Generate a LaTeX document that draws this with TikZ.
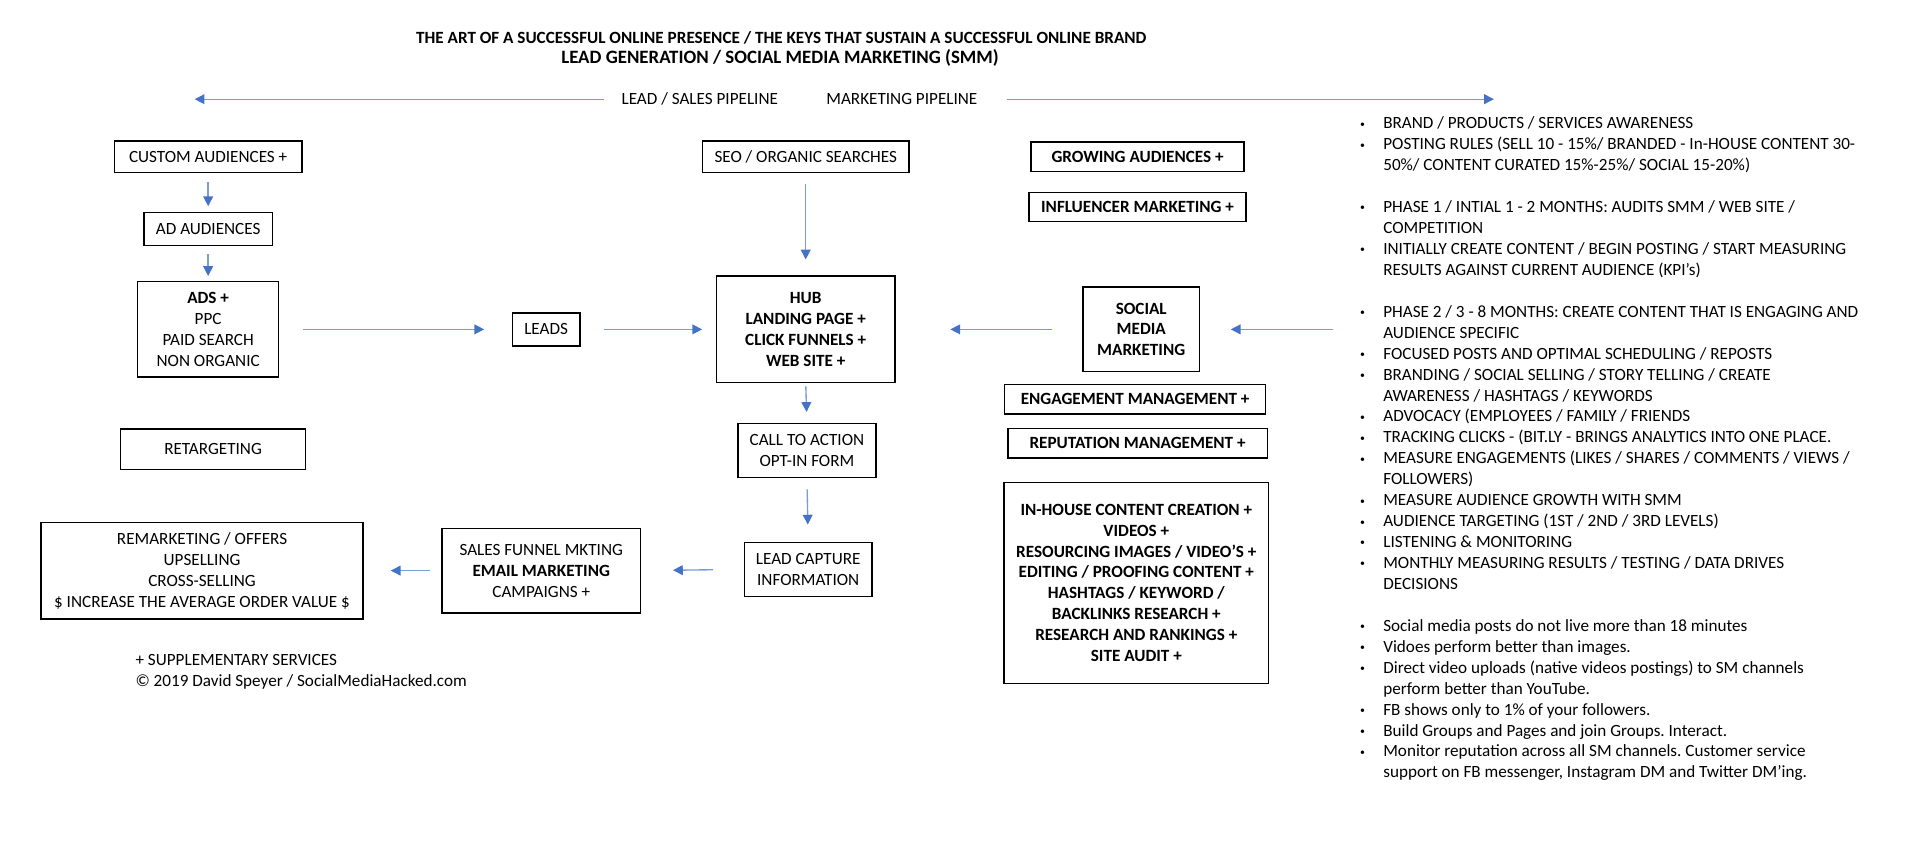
\documentclass[tikz,border=0pt]{standalone}
\usepackage{fontspec}
\setmainfont{Carlito}
\usepackage{tikz}
\usetikzlibrary{arrows.meta}
\frenchspacing

\definecolor{lineblue}{RGB}{125,155,215}
\definecolor{tipblue}{RGB}{68,114,196}
\newcommand\bul{\makebox[19pt][l]{\raisebox{1.3pt}{\fontsize{8}{8}\selectfont\textbullet}}}

\begin{document}
\begin{tikzpicture}[x=1pt,y=-1pt,
    every node/.style={font=\fontsize{14}{17.1}\selectfont,inner sep=0pt},
    box/.style={draw,line width=1.2pt,align=center},
    bbox/.style={box,font=\fontsize{14}{17.1}\selectfont\bfseries},
    sz/.style 2 args={minimum width=#1pt,minimum height=#2pt},
    flow/.style={draw=lineblue,line width=1.1pt,-{Triangle[length=8pt,width=8pt,color=tipblue]}}]
    %
    \useasboundingbox (0,0) rectangle (1568,692);
    %
    \node[font=\fontsize{14}{14}\selectfont\bfseries] (title) at (638,31)
        {THE ART OF A SUCCESSFUL ONLINE PRESENCE / THE KEYS THAT SUSTAIN A SUCCESSFUL ONLINE BRAND};
    \node[font=\fontsize{15.4}{16}\selectfont\bfseries] (subtitle) at (637,47.5)
        {LEAD GENERATION / SOCIAL MEDIA MARKETING (SMM)};
    \node (leadpipe) at (571.5,81) {LEAD / SALES PIPELINE};
    \node (mktpipe) at (736.5,81) {MARKETING PIPELINE};
    \coordinate (pipeL) at (159,80);
    \coordinate (pipeR) at (1220,80);
    %
    \node[box,sz={153}{26}] (custom) at (170,128) {CUSTOM AUDIENCES +};
    \node[box,sz={105}{27}] (adaud) at (170,187) {AD AUDIENCES};
    \node[box,sz={115}{78}] (ads) at (170,269) {\textbf{ADS +}\\PPC\\PAID SEARCH\\NON ORGANIC};
    \node[box,sz={151}{33}] (retarget) at (174,367) {RETARGETING};
    \node[box,sz={55}{27}] (leads) at (446,269) {LEADS};
    \node[box,sz={169}{26}] (seo) at (658,128) {SEO / ORGANIC SEARCHES};
    \node[bbox,sz={146}{87}] (hub) at (658,269) {HUB\\LANDING PAGE +\\CLICK FUNNELS +\\WEB SITE +};
    \node[box,sz={113}{44}] (cta) at (659,368) {CALL TO ACTION\\OPT-IN FORM};
    \node[box,sz={104}{44}] (capture) at (660,465) {LEAD CAPTURE\\INFORMATION};
    \node[box,sz={162}{69}] (funnel) at (442,466) {SALES FUNNEL MKTING\\\textbf{EMAIL MARKETING}\\CAMPAIGNS +};
    \node[box,sz={263}{79}] (remark) at (165,466)
        {REMARKETING / OFFERS\\UPSELLING\\CROSS-SELLING\\\$ INCREASE THE AVERAGE ORDER VALUE \$};
    %
    \node[bbox,sz={174}{24}] (grow) at (929,128) {GROWING AUDIENCES +};
    \node[bbox,sz={177}{24}] (influ) at (929,169) {INFLUENCER MARKETING +};
    \node[bbox,sz={95}{69}] (smm) at (932,269) {SOCIAL\\MEDIA\\MARKETING};
    \node[bbox,sz={213}{24}] (engage) at (927,326) {ENGAGEMENT MANAGEMENT +};
    \node[bbox,sz={212}{24}] (repute) at (929,362) {REPUTATION MANAGEMENT +};
    \node[bbox,sz={216}{164}] (inhouse) at (928,476)
        {IN-HOUSE CONTENT CREATION +\\VIDEOS +\\RESOURCING IMAGES / VIDEO'S +\\EDITING / PROOFING CONTENT +\\
         HASHTAGS / KEYWORD /\\BACKLINKS RESEARCH +\\RESEARCH AND RANKINGS +\\SITE AUDIT +};
    %
    \node[anchor=west,align=left] (note) at (110.5,548.7)
        {+ SUPPLEMENTARY SERVICES\\© 2019 David Speyer / SocialMediaHacked.com};
    %
    \node[anchor=base west] (lists) at (1110.5,105.2) {\begin{tabular}[t]{@{}l@{}l@{}}
        \bul & BRAND / PRODUCTS / SERVICES AWARENESS\\
        \bul & POSTING RULES (SELL 10 - 15\%/ BRANDED - In-HOUSE CONTENT 30-\\
             & 50\%/ CONTENT CURATED 15\%-25\%/ SOCIAL 15-20\%)\\
             & \\
        \bul & PHASE 1 / INTIAL 1 - 2 MONTHS: AUDITS SMM / WEB SITE /\\
             & COMPETITION\\
        \bul & INITIALLY CREATE CONTENT / BEGIN POSTING / START MEASURING\\
             & RESULTS AGAINST CURRENT AUDIENCE (KPI's)\\
             & \\
        \bul & PHASE 2 / 3 - 8 MONTHS: CREATE CONTENT THAT IS ENGAGING AND\\
             & AUDIENCE SPECIFIC\\
        \bul & FOCUSED POSTS AND OPTIMAL SCHEDULING / REPOSTS\\
        \bul & BRANDING / SOCIAL SELLING / STORY TELLING / CREATE\\
             & AWARENESS / HASHTAGS / KEYWORDS\\
        \bul & ADVOCACY (EMPLOYEES / FAMILY / FRIENDS\\
        \bul & TRACKING CLICKS - (BIT.LY - BRINGS ANALYTICS INTO ONE PLACE.\\
        \bul & MEASURE ENGAGEMENTS (LIKES / SHARES / COMMENTS / VIEWS /\\
             & FOLLOWERS)\\
        \bul & MEASURE AUDIENCE GROWTH WITH SMM\\
        \bul & AUDIENCE TARGETING (1ST / 2ND / 3RD LEVELS)\\
        \bul & LISTENING \& MONITORING\\
        \bul & MONTHLY MEASURING RESULTS / TESTING / DATA DRIVES\\
             & DECISIONS\\
             & \\
        \bul & Social media posts do not live more than 18 minutes\\
        \bul & Vidoes perform better than images.\\
        \bul & Direct video uploads (native videos postings) to SM channels\\
             & perform better than YouTube.\\
        \bul & FB shows only to 1\% of your followers.\\
        \bul & Build Groups and Pages and join Groups. Interact.\\
        \bul & Monitor reputation across all SM channels. Customer service\\
             & support on FB messenger, Instagram DM and Twitter DM'ing.
        \end{tabular}};
    \coordinate (listin) at (1089,269);
    %
    \draw[flow,shorten <=14pt] (leadpipe.west) -- (leadpipe.west -| pipeL);
    \draw[flow,shorten <=24pt] (mktpipe.east) -- (mktpipe.east -| pipeR);
    \draw[flow,shorten <=7pt,shorten >=4.5pt] (custom.south) -- (adaud.north);
    \draw[flow,shorten <=6.5pt,shorten >=4pt] (adaud.south) -- (ads.north);
    \draw[flow,shorten <=19.5pt,shorten >=22.5pt] (ads.east) -- (leads.west);
    \draw[flow,shorten <=19.5pt,shorten >=11pt] (leads.east) -- (hub.west);
    \draw[flow,shorten <=9pt,shorten >=13pt] (seo.south) -- (hub.north);
    \draw[flow,shorten <=2.5pt,shorten >=9pt] (hub.south) -- (cta.north);
    \draw[flow,shorten <=9pt,shorten >=14pt] (cta.south) -- (capture.north);
    \draw[flow,shorten <=25pt,shorten >=26pt] (capture.west) -- (funnel.east);
    \draw[flow,shorten <=9.5pt,shorten >=22pt] (funnel.west) -- (remark.east);
    \draw[flow,shorten <=24.5pt,shorten >=44.5pt] (smm.west) -- (hub.east);
    \draw[flow,shorten >=25pt] (listin) -- (smm.east);
    %
\end{tikzpicture}
\end{document}
